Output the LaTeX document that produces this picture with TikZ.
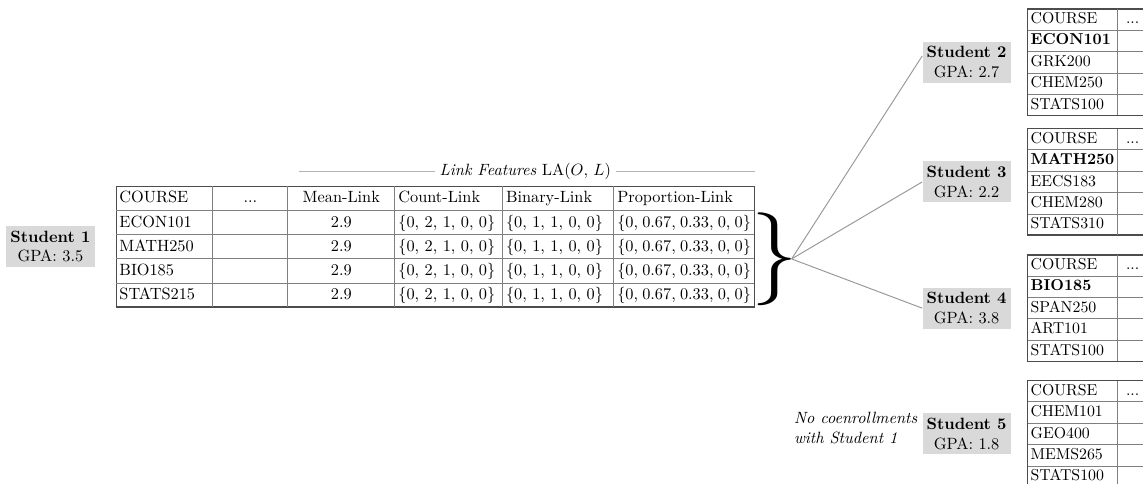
\documentclass[tikz,border=0pt]{standalone}
\usepackage{amsmath,amssymb}
\usepackage{array,colortbl}
\usepackage{tikz}
\usetikzlibrary{positioning}

\setlength{\arrayrulewidth}{0.5pt}
\arrayrulecolor{gray}

% one row of the link feature table
\newcommand{\linkrow}[1]{#1 & & 2.9 & \{0, 2, 1, 0, 0\} & \{0, 1, 1, 0, 0\} & \{0, 0.67, 0.33, 0, 0\}}
% course list of a coenrolled student
\newcommand{\courselist}[4]{%
  \def\arraystretch{1.09}\setlength{\tabcolsep}{1.8pt}\fontsize{9.7pt}{11.6pt}\selectfont
  \begin{tabular}{p{51pt}|>{\centering\arraybackslash}p{15pt}}
    COURSE & ... \\ \hline
    #1 & \\ \hline
    #2 & \\ \hline
    #3 & \\ \hline
    #4 & \\
  \end{tabular}}

\begin{document}
\begin{tikzpicture}[
    student/.style={fill=black!15,align=center,inner xsep=2.5pt,inner ysep=3pt},
    tbl/.style={draw=black!70,line width=0.8pt,inner sep=0pt},
    link/.style={draw=gray!80,line width=0.6pt},
    rulegray/.style={draw=gray!60,line width=0.5pt}]
  \useasboundingbox (0,0) rectangle (24.63,-10.41);

  % link features of student 1
  \node (tab) [tbl,anchor=north west] at (2.49,-4.00) {%
    \def\arraystretch{1.2}\setlength{\tabcolsep}{2pt}%
    \begin{tabular}{p{55pt}|>{\centering\arraybackslash}p{41.5pt}|>{\centering\arraybackslash}p{61pt}|p{61.5pt}|p{63.7pt}|p{82pt}}
      COURSE & ... & Mean-Link & Count-Link & Binary-Link & Proportion-Link \\ \hline
      \linkrow{ECON101} \\ \hline
      \linkrow{MATH250} \\ \hline
      \linkrow{BIO185} \\ \hline
      \linkrow{STATS215} \\
    \end{tabular}};
  \node (s1) [student,left=0.446cm of tab] {\textbf{Student 1}\\GPA: 3.5};

  \node (lf) [inner xsep=3pt] at (11.32,-3.69) {\textit{Link Features} $\mathrm{LA}(O,\,L)$};
  \coordinate (lfl) at (6.44,-3.69);
  \coordinate (lfr) at (tab.north east |- lfl);
  \draw[rulegray] (lfl) -- (lf.west);
  \draw[rulegray] (lf.east) -- (lfr);

  \node (br) [inner sep=0pt] at (16.70,-5.58) {\fontsize{57pt}{57pt}\selectfont\}};
  \coordinate (tip) at ([xshift=-0.15cm]br.east);

  % coenrolled students
  \node (t2) [tbl,anchor=north west] at (22.13,-0.18) {\courselist{\textbf{ECON101}}{GRK200}{CHEM250}{STATS100}};
  \node (t3) [tbl,anchor=north west] at (22.13,-2.76) {\courselist{\textbf{MATH250}}{EECS183}{CHEM280}{STATS310}};
  \node (t4) [tbl,anchor=north west] at (22.13,-5.48) {\courselist{\textbf{BIO185}}{SPAN250}{ART101}{STATS100}};
  \node (t5) [tbl,anchor=north west] at (22.13,-8.19) {\courselist{CHEM101}{GEO400}{MEMS265}{STATS100}};

  \node (s2) [student,left=0.345cm of t2] {\textbf{Student 2}\\GPA: 2.7};
  \node (s3) [student,left=0.345cm of t3] {\textbf{Student 3}\\GPA: 2.2};
  \node (s4) [student,left=0.345cm of t4] {\textbf{Student 4}\\GPA: 3.8};
  \node (s5) [student,left=0.345cm of t5] {\textbf{Student 5}\\GPA: 1.8};
  \node (nc) [align=left,inner sep=0pt,left=2.7pt of s5,yshift=0.13cm] {\textit{No coenrollments}\\\textit{with Student 1}};

  \draw[link] (tip) -- (s2.172);
  \draw[link] (tip) -- (s3.west);
  \draw[link] (tip) -- (s4.west);
\end{tikzpicture}
\end{document}
